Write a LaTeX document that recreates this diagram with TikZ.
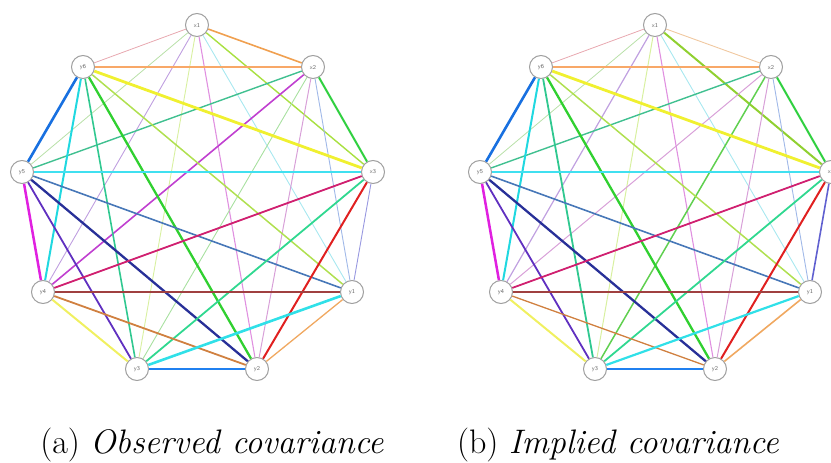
\documentclass[tikz,border=0pt]{standalone}
\definecolor{cRose}{HTML}{E8A8B0}
\definecolor{cOrange}{HTML}{F0A050}
\definecolor{cPaleGreen}{HTML}{B8E0A8}
\definecolor{cLav}{HTML}{C0A0E0}
\definecolor{cPaleYG}{HTML}{D8F0A0}
\definecolor{cOrchid}{HTML}{E090E0}
\definecolor{cLCyan}{HTML}{A8E8F0}
\definecolor{cYG}{HTML}{A8E040}
\definecolor{cPeach}{HTML}{F8A868}
\definecolor{cTeal}{HTML}{40C090}
\definecolor{cMag}{HTML}{C040D0}
\definecolor{cLGreen}{HTML}{A8E0A0}
\definecolor{cPlum}{HTML}{D8A0D8}
\definecolor{cLSteel}{HTML}{A0B8E8}
\definecolor{cGreen}{HTML}{30D040}
\definecolor{cBlue}{HTML}{1870E0}
\definecolor{cCyanA}{HTML}{20D8E0}
\definecolor{cSea}{HTML}{30C890}
\definecolor{cGreenB}{HTML}{30D030}
\definecolor{cYGB}{HTML}{B0E050}
\definecolor{cYellow}{HTML}{F0F030}
\definecolor{cCyanB}{HTML}{40E0F0}
\definecolor{cSteel}{HTML}{4878B8}
\definecolor{cNavy}{HTML}{283098}
\definecolor{cIndigo}{HTML}{6030C0}
\definecolor{cMagenta}{HTML}{E020E0}
\definecolor{cCrimson}{HTML}{D02070}
\definecolor{cSpring}{HTML}{30D890}
\definecolor{cRed}{HTML}{E02020}
\definecolor{cSlate}{HTML}{9898E0}
\definecolor{cBrown}{HTML}{A04040}
\definecolor{cPeru}{HTML}{D08040}
\definecolor{cYellowB}{HTML}{F0F060}
\definecolor{cCyanC}{HTML}{30E0E8}
\definecolor{cDodger}{HTML}{2080F0}
\definecolor{cLOrange}{HTML}{F0A860}
\definecolor{cPeachL}{HTML}{F0C8A0}
\definecolor{cYGC}{HTML}{90D030}
\definecolor{cGreenC}{HTML}{60D050}
\definecolor{cSlateB}{HTML}{6060D0}
\definecolor{cNodeLine}{HTML}{A0A0A0}
\begin{document}
\begin{tikzpicture}[x=1pt,y=-1pt,
  vnode/.style={circle, draw=cNodeLine, line width=1pt, fill=white, minimum size=23pt, inner sep=0pt,
    font=\sffamily\fontsize{6}{7}\selectfont, text=black!60},
  caption/.style={anchor=base, font=\fontsize{34}{40}\selectfont, inner sep=0pt}]
\useasboundingbox (0,0) rectangle (831,463);
% left graph nodes
\foreach \n/\x/\y in {x1/197/25, x2/313/67, x3/373/172, y1/352/292, y2/257/369, y3/137/369, y4/43/292, y5/22/172, y6/83/67}
  \node[vnode] (L\n) at (\x,\y) {\n};
% right graph nodes
\foreach \n/\x/\y in {x1/655/25, x2/771/67, x3/831/172, y1/810/292, y2/715/369, y3/595/369, y4/501/292, y5/480/172, y6/541/67}
  \node[vnode] (R\n) at (\x,\y) {\n};
% left edges
\foreach \a/\b/\c/\w in {
  x1/y6/cRose/0.8, x1/x2/cOrange/1.6, x1/y5/cPaleGreen/0.8, x1/y4/cLav/0.9,
  x1/y3/cPaleYG/0.9, x1/y2/cOrchid/1.1, x1/y1/cLCyan/0.9, x1/x3/cYG/1.4,
  x2/y6/cPeach/2.0, x2/y5/cTeal/1.4, x2/y4/cMag/1.6, x2/y3/cLGreen/0.9,
  x2/y2/cPlum/1.0, x2/y1/cLSteel/0.9, x2/x3/cGreen/2.0,
  y6/y5/cBlue/2.6, y6/y4/cCyanA/2.0, y6/y3/cSea/1.6, y6/y2/cGreenB/2.3, y6/y1/cYGB/1.5, y6/x3/cYellow/2.8,
  y5/x3/cCyanB/1.8, y5/y1/cSteel/1.6, y5/y2/cNavy/2.3, y5/y3/cIndigo/1.8, y5/y4/cMagenta/2.5,
  x3/y4/cCrimson/1.8, x3/y3/cSpring/1.8, x3/y2/cRed/2.0, x3/y1/cSlate/0.9,
  y4/y1/cBrown/1.6, y4/y2/cPeru/1.8, y4/y3/cYellowB/2.0,
  y3/y1/cCyanC/2.6, y3/y2/cDodger/2.8, y2/y1/cLOrange/1.3}
  \draw[draw=\c, line width=\w pt] (L\a) -- (L\b);
% right edges
\foreach \a/\b/\c/\w in {
  x1/y6/cRose/0.8, x1/x2/cPeachL/0.9, x1/y5/cPaleGreen/0.8, x1/y4/cLav/1.2,
  x1/y3/cPaleYG/1.0, x1/y2/cOrchid/1.1, x1/y1/cLCyan/0.9, x1/x3/cYGC/2.0,
  x2/y6/cPeach/2.0, x2/y5/cTeal/1.4, x2/y4/cPlum/1.0, x2/y3/cGreenC/1.5,
  x2/y2/cPlum/1.0, x2/y1/cLSteel/0.9, x2/x3/cGreen/2.0,
  y6/y5/cBlue/2.6, y6/y4/cCyanA/2.0, y6/y3/cSea/1.8, y6/y2/cGreenB/2.3, y6/y1/cYGB/1.5, y6/x3/cYellow/2.8,
  y5/x3/cCyanB/1.8, y5/y1/cSteel/1.6, y5/y2/cNavy/2.3, y5/y3/cIndigo/1.8, y5/y4/cMagenta/2.5,
  x3/y4/cCrimson/1.8, x3/y3/cSpring/1.8, x3/y2/cRed/2.0, x3/y1/cSlateB/1.6,
  y4/y1/cBrown/1.6, y4/y2/cPeru/1.3, y4/y3/cYellowB/2.0,
  y3/y1/cCyanC/2.2, y3/y2/cDodger/2.8, y2/y1/cLOrange/1.6}
  \draw[draw=\c, line width=\w pt] (R\a) -- (R\b);
% captions
\node[caption] (capa) at (212,453) {(a) \textit{Observed covariance}};
\node[caption] (capb) at (618,453) {(b) \textit{Implied covariance}};
\end{tikzpicture}
\end{document}
